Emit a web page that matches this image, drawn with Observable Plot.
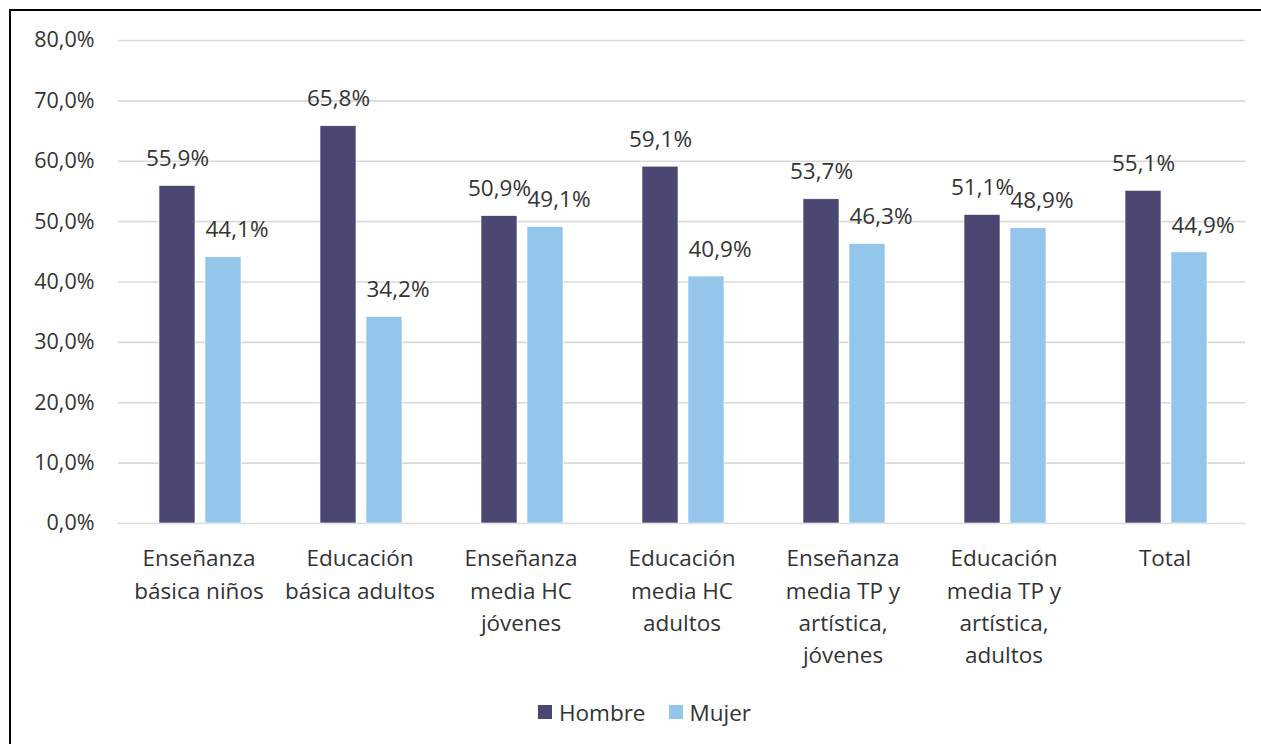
<!DOCTYPE html>
<html>
<head>
<meta charset="utf-8">
<script src="https://cdn.jsdelivr.net/npm/d3@7"></script>
<script src="https://cdn.jsdelivr.net/npm/@observablehq/plot@0.6"></script>
<style>
  html, body { margin: 0; padding: 0; background: #fff; width: 1261px; height: 744px; overflow: hidden; }
  #frame { position: absolute; left: 9px; top: 9px; width: 1400px; height: 900px; border-left: 2px solid #000; border-top: 2px solid #000; }
  #chart { position: absolute; left: 0; top: 0; }
  #legend { position: absolute; left: 14px; top: 690px; width: 1261px; height: 44px; display: flex; justify-content: center; align-items: center; gap: 23px;
            font-family: "Open Sans", sans-serif; font-size: 22.5px; color: #333; }
  .item { display: flex; align-items: center; gap: 7px; }
  .sw { width: 14px; height: 14px; display: inline-block; }
</style>
</head>
<body>
<div id="frame"></div>
<div id="chart"></div>
<div id="legend"></div>
<script>
const categories = ["Enseñanza básica niños", "Educación básica adultos", "Enseñanza media HC jóvenes", "Educación media HC adultos", "Enseñanza media TP y artística, jóvenes", "Educación media TP y artística, adultos", "Total"];
const tickLabels = ["Enseñanza\nbásica niños", "Educación\nbásica adultos", "Enseñanza\nmedia HC\njóvenes", "Educación\nmedia HC\nadultos", "Enseñanza\nmedia TP y\nartística,\njóvenes", "Educación\nmedia TP y\nartística,\nadultos", "Total"];
const series = ["Hombre", "Mujer"];
const hombre = [55.9, 65.8, 50.9, 59.1, 53.7, 51.1, 55.1];
const mujer = [44.1, 34.2, 49.1, 40.9, 46.3, 48.9, 44.9];
const colors = ["#4a4873", "#93c6ea"];
const yTicks = [0, 10, 20, 30, 40, 50, 60, 70, 80];

const locale = d3.formatLocale({decimal: ",", thousands: ".", grouping: [3], currency: ["$", ""]});
const fmt = locale.format(".1f");
const pct = v => fmt(v) + "%";

const dataH = categories.map((c, i) => ({cat: c, value: hombre[i], serie: series[0]}));
const dataM = categories.map((c, i) => ({cat: c, value: mujer[i], serie: series[1]}));
const labelOf = Object.fromEntries(categories.map((c, i) => [c, tickLabels[i]]));

const chart = Plot.plot({
  width: 1261,
  height: 690,
  marginLeft: 118,
  marginRight: 16,
  marginTop: 40,
  marginBottom: 167,
  style: {fontFamily: "Open Sans, sans-serif", fontSize: "21px", color: "#333", background: "transparent"},
  x: {domain: categories, padding: 0, label: null},
  y: {domain: [0, 80], label: null},
  marks: [
    Plot.gridY(yTicks, {stroke: "#d9d9d9", strokeOpacity: 1, strokeWidth: 1.6}),
    Plot.axisY(yTicks, {tickSize: 0, tickPadding: 24, tickFormat: pct, label: null, fontSize: 21.5}),
    Plot.axisX({tickSize: 0, tickPadding: 20, tickFormat: d => labelOf[d], lineHeight: 1.43, label: null, fontSize: 22.5, lineAnchor: "top"}),
    Plot.barY(dataH, {x: "cat", y: "value", fill: colors[0], insetLeft: 41, insetRight: 84, stroke: "#ffffff", strokeWidth: 0.6}),
    Plot.barY(dataM, {x: "cat", y: "value", fill: colors[1], insetLeft: 87, insetRight: 38, stroke: "#ffffff", strokeWidth: 0.6}),
    Plot.text(dataH, {x: "cat", y: "value", text: d => pct(d.value), dx: -21.5, dy: -27, fill: "#333", fontSize: 22.5}),
    Plot.text(dataM, {x: "cat", y: "value", text: d => pct(d.value), dx: 38, dy: -27, fill: "#333", fontSize: 22.5})
  ]
});
document.getElementById("chart").appendChild(chart);

const legend = document.getElementById("legend");
series.forEach((s, i) => {
  const item = document.createElement("div");
  item.className = "item";
  const sw = document.createElement("span");
  sw.className = "sw";
  sw.style.background = colors[i];
  const t = document.createElement("span");
  t.textContent = s;
  item.appendChild(sw);
  item.appendChild(t);
  legend.appendChild(item);
});
</script>
</body>
</html>
